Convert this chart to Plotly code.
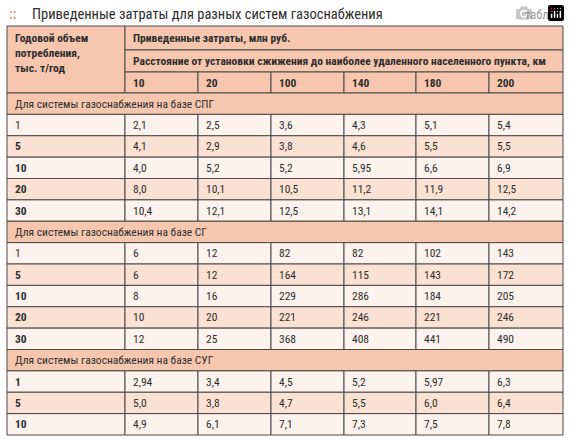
import plotly.graph_objects as go

title = "Приведенные затраты для разных систем газоснабжения"
table_no = "табл. 1"
head_col0 = "Годовой объем<br>потребления,<br>тыс. т/год"
head_top = "Приведенные затраты, млн руб."
head_dist = "Расстояние от установки сжижения до наиболее удаленного населенного пункта, км"
distances = ["10", "20", "100", "140", "180", "200"]

sections = ["Для системы газоснабжения на базе СПГ",
            "Для системы газоснабжения на базе СГ",
            "Для системы газоснабжения на базе СУГ"]
volumes_spg = ["1", "5", "10", "20", "30"]
values_spg = [["2,1", "2,5", "3,6", "4,3", "5,1", "5,4"],
              ["4,1", "2,9", "3,8", "4,6", "5,5", "5,5"],
              ["4,0", "5,2", "5,2", "5,95", "6,6", "6,9"],
              ["8,0", "10,1", "10,5", "11,2", "11,9", "12,5"],
              ["10,4", "12,1", "12,5", "13,1", "14,1", "14,2"]]
volumes_sg = ["1", "5", "10", "20", "30"]
values_sg = [["6", "12", "82", "82", "102", "143"],
             ["6", "12", "164", "115", "143", "172"],
             ["8", "16", "229", "286", "184", "205"],
             ["10", "20", "221", "246", "221", "246"],
             ["12", "25", "368", "408", "441", "490"]]
volumes_sug = ["1", "5", "10"]
values_sug = [["2,94", "3,4", "4,5", "5,2", "5,97", "6,3"],
              ["5,0", "3,8", "4,7", "5,5", "6,0", "6,4"],
              ["4,9", "6,1", "7,1", "7,3", "7,5", "7,8"]]

FONT = "Liberation Sans Narrow, Roboto Condensed, DejaVu Sans Condensed, Roboto"
HEAD = "#f6c7ae"
ROW_A = "#fdf2ec"
ROW_B = "#fbe1d4"
LINE = "#4a4a4a"
TXT = "#2e2e2e"

col_x = [7, 125, 198, 271, 344, 416, 489, 563]
top = 26
hrows = [top, 50, 72, 93]
body_top = 93
rh = (435 - body_top) / 16

shapes, ann = [], []

def rect(x0, y0, x1, y1, fill):
    shapes.append(dict(type="rect", xref="x", yref="y", x0=x0, x1=x1, y0=y0, y1=y1,
                       fillcolor=fill, line=dict(color=LINE, width=1), layer="below"))

def text(x, y, s, bold=False, size=11.5, anchor="left", valign="middle"):
    ann.append(dict(x=x, y=y, xref="x", yref="y", text=f"<b>{s}</b>" if bold else s,
                    showarrow=False, xanchor=anchor, yanchor=valign, align="left",
                    font=dict(family=FONT, size=size, color=TXT)))

# header
rect(col_x[0], hrows[0], col_x[1], hrows[3], HEAD)
text(col_x[0] + 6, hrows[0] + 3, head_col0, bold=True, valign="top")
rect(col_x[1], hrows[0], col_x[-1], hrows[1], HEAD)
text(col_x[1] + 6, (hrows[0] + hrows[1]) / 2, head_top, bold=True)
rect(col_x[1], hrows[1], col_x[-1], hrows[2], HEAD)
text(col_x[1] + 6, (hrows[1] + hrows[2]) / 2, head_dist, bold=True)
for j, d in enumerate(distances):
    rect(col_x[j + 1], hrows[2], col_x[j + 2], hrows[3], HEAD)
    text(col_x[j + 1] + 6, (hrows[2] + hrows[3]) / 2, d, bold=True)

r = 0
for si, (sec, vols, vals) in enumerate(zip(sections, [volumes_spg, volumes_sg, volumes_sug],
                                           [values_spg, values_sg, values_sug])):
    y0 = body_top + r * rh
    rect(col_x[0], y0, col_x[-1], y0 + rh, HEAD)
    text(col_x[0] + 6, y0 + rh / 2, sec)
    r += 1
    for i, (v, row) in enumerate(zip(vols, vals)):
        y0 = body_top + r * rh
        fill = ROW_A if i % 2 == 0 else ROW_B
        for j in range(7):
            rect(col_x[j], y0, col_x[j + 1], y0 + rh, fill)
        bold = not (v == "1" and si < 2)
        text(col_x[0] + 6, y0 + rh / 2, v, bold=bold)
        for j, val in enumerate(row):
            text(col_x[j + 1] + 6, y0 + rh / 2, val)
        r += 1

# title
text(30, 14, title, size=14.5)
text(563, 14, table_no, size=12.5, anchor="right")
ann.append(dict(x=13, y=14, xref="x", yref="y", text="<b>::</b>", showarrow=False,
                font=dict(family=FONT, size=14, color="#f0a070")))

fig = go.Figure()
fig.update_layout(width=570, height=439, margin=dict(l=0, r=0, t=0, b=0),
                  paper_bgcolor="white", plot_bgcolor="white",
                  xaxis=dict(range=[0, 570], visible=False, fixedrange=True),
                  yaxis=dict(range=[439, 0], visible=False, fixedrange=True),
                  shapes=shapes, annotations=ann, showlegend=False)
fig.write_html("out.html", post_script="document.body.style.margin='0';document.body.style.overflow='hidden';")
